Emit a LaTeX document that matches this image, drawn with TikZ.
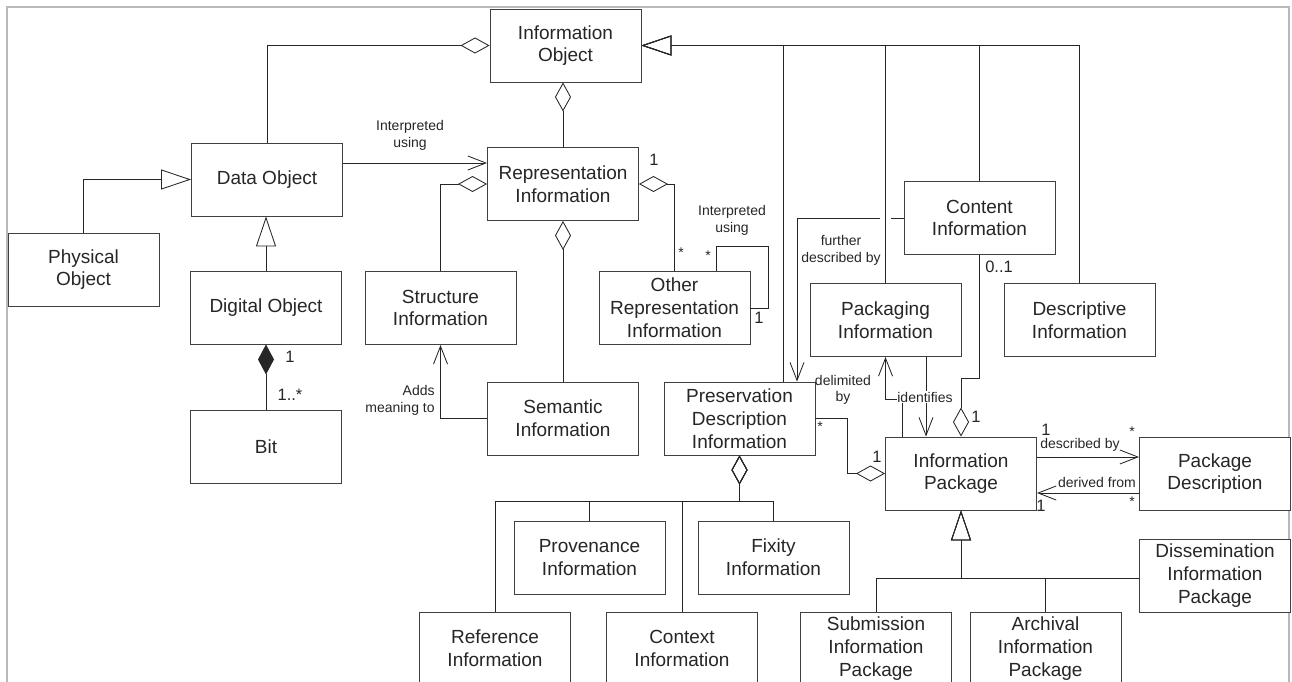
\documentclass[tikz,border=0pt]{standalone}
\usepackage{fontspec}
\setmainfont{Liberation Sans}
\usetikzlibrary{arrows.meta,calc}
\begin{document}
\begin{tikzpicture}[x=1pt,y=-1pt,
  cls/.style={draw=black!75, fill=white, line width=0.95pt, minimum width=151pt, minimum height=73pt,
    inner sep=0pt, align=center, font=\fontsize{19}{22.8}\selectfont, text=black!85},
  wire/.style={draw=black!85, line width=0.85pt},
  gen/.style={wire, -{Triangle[open, length=30pt, width=20pt]}},
  agg/.style={wire, -{Diamond[open, length=29pt, width=16pt]}},
  comp/.style={wire, -{Diamond[length=30pt, width=16pt]}},
  nav/.style={wire, -{Straight Barb[length=18pt, width=14pt]}},
  lbl/.style={font=\fontsize{14}{16.5}\selectfont, text=black!85, align=center, inner sep=0.5pt},
  mult/.style={font=\fontsize{16.5}{18}\selectfont, text=black!85, inner sep=0pt},
  star/.style={font=\fontsize{14}{16}\selectfont, text=black!85, inner sep=0pt},
]
\useasboundingbox (0,0) rectangle (1292,682);
\clip (0,0) rectangle (1292,682);

% outer frame
\draw[gray!55, line width=2pt] (7,700) -- (7,7) -- (1289,7) -- (1289,700);

% classes
\node[cls] (infoobj) at (565.5,45.5) {Information\\Object};
\node[cls] (dataobj) at (267,179.5) {Data Object};
\node[cls] (physobj) at (83.5,269.5) {Physical\\Object};
\node[cls] (digobj) at (266,307.5) {Digital Object};
\node[cls] (bit) at (266,446.5) {Bit};
\node[cls] (repinfo) at (563,184) {Representation\\Information};
\node[cls] (structinfo) at (440.5,308) {Structure\\Information};
\node[cls] (seminfo) at (563,418.5) {Semantic\\Information};
\node[cls] (otherrep) at (674.5,308) {Other\\Representation\\Information};
\node[cls] (pdi) at (739.5,418.5) {Preservation\\Description\\Information};
\node[cls] (contentinfo) at (979.5,218) {Content\\Information};
\node[cls] (packinfo) at (885.5,320) {Packaging\\Information};
\node[cls] (descinfo) at (1079.5,320) {Descriptive\\Information};
\node[cls] (infopkg) at (961,473.5) {Information\\Package};
\node[cls] (pkgdesc) at (1215,473.5) {Package\\Description};
\node[cls] (dip) at (1215,575.5) {Dissemination\\Information\\Package};
\node[cls] (sip) at (876,648.5) {Submission\\Information\\Package};
\node[cls] (aip) at (1045.5,648.5) {Archival\\Information\\Package};
\node[cls] (provinfo) at (589.5,557.5) {Provenance\\Information};
\node[cls] (fixinfo) at (773.5,557.5) {Fixity\\Information};
\node[cls] (refinfo) at (495,648.5) {Reference\\Information};
\node[cls] (ctxinfo) at (682,648.5) {Context\\Information};

% data object side
\draw[agg] (dataobj.north) |- (infoobj.west);
\draw[gen] (physobj.north) |- (dataobj.west);
\draw[gen] (digobj.north) -- (digobj.north |- dataobj.south);
\draw[comp] (bit.north) -- (digobj.south);
\node[mult] (mdo) at (290,357) {1};
\node[mult] (mbit) at (290,395) {1..*};

\coordinate (iu) at ($(dataobj.east)+(0,-16.5)$);
\draw[nav] (iu) -- (iu -| repinfo.west);
\node[lbl] (iulbl) at (410,135.5) {Interpreted\\using};

% representation information
\draw[agg] (repinfo.north) -- (repinfo.north |- infoobj.south);
\draw[agg] (structinfo.north) |- (repinfo.west);
\draw[agg] (seminfo.north) -- (repinfo.south);
\draw[nav] (seminfo.west) -| (structinfo.south);
\node[lbl, align=right] (amlbl) at (400,400.5) {Adds\\meaning to};

\draw[agg] (otherrep.north) |- (repinfo.east);
\node[mult] (mri) at (654,160) {1};
\node[star] (mor) at (681,253) {*};
\draw[wire] ($(otherrep.north)+(41.5,0)$) |- ($(otherrep.east)+(18,-62)$) |- (otherrep.east);
\node[star] (mloopa) at (708,256) {*};
\node[mult] (mloopb) at (759,318) {1};
\node[lbl] (iulbl2) at (732,220.5) {Interpreted\\using};

% further described by (with a gap where it crosses the packaging line)
\draw[nav] (contentinfo.west) -- ++(-13,0) ++(-11,0) -| ($(pdi.north)+(57.5,0)$);
\node[lbl] (fdlbl) at (841,250.5) {further\\described by};

% specialisations of the information object
\draw[gen] ($(pdi.north)+(43.5,0)$) |- (infoobj.east);
\draw[gen] (packinfo.north) |- (infoobj.east);
\draw[gen] (contentinfo.north) |- (infoobj.east);
\draw[gen] (descinfo.north) |- (infoobj.east);

% packaging information identifies the package
\coordinate (idf) at ($(infopkg.north)+(-59,0)$);
\draw[nav] (idf) |- ($(packinfo.south)+(0,42)$) -- (packinfo.south);
\draw[nav] ($(packinfo.south)+(40.5,0)$) -- ($(infopkg.north)+(-35,0)$);
\node[lbl, fill=white] (idlbl) at (925,397) {identifies};

% content information in the package
\draw[agg] (contentinfo.south) -- ++(0,123) -| (infopkg.north);
\node[mult] (mci) at (999,267) {0..1};
\node[mult] (mip) at (976,417) {1};

% preservation description information in the package
\draw[agg] (pdi.east) -- ++(32,0) |- (infopkg.west);
\node[lbl] (dellbl) at (843,390) {delimited\\by};
\node[star] (mpdi) at (820,427) {*};
\node[mult] (mip2) at (877,457) {1};

% package description
\coordinate (db) at ($(infopkg.east)+(0,-16.5)$);
\draw[nav] (db) -- (db -| pkgdesc.west);
\coordinate (df) at ($(pkgdesc.west)+(0,19.5)$);
\draw[nav] (df) -- (df -| infopkg.east);
\node[mult] (mdb1) at (1046,430) {1};
\node[star] (mdb2) at (1132,432) {*};
\node[lbl] (dblbl) at (1080,445) {described by};
\node[lbl] (dflbl) at (1097,482) {derived from};
\node[star] (mdf1) at (1132,502) {*};
\node[mult] (mdf2) at (1041,506) {1};

% kinds of information package
\coordinate (ipj) at ($(infopkg.south)+(0,68)$);
\draw[gen] (sip.north) |- (ipj) -- (infopkg.south);
\draw[gen] (aip.north) |- (ipj) -- (infopkg.south);
\draw[gen] (dip.west |- ipj) -- (ipj) -- (infopkg.south);

% parts of the preservation description information
\coordinate (pdj) at ($(pdi.south)+(0,46)$);
\draw[agg] (refinfo.north) |- (pdj) -- (pdi.south);
\draw[agg] (provinfo.north) |- (pdj) -- (pdi.south);
\draw[agg] (ctxinfo.north) |- (pdj) -- (pdi.south);
\draw[agg] (fixinfo.north) |- (pdj) -- (pdi.south);
\end{tikzpicture}
\end{document}
